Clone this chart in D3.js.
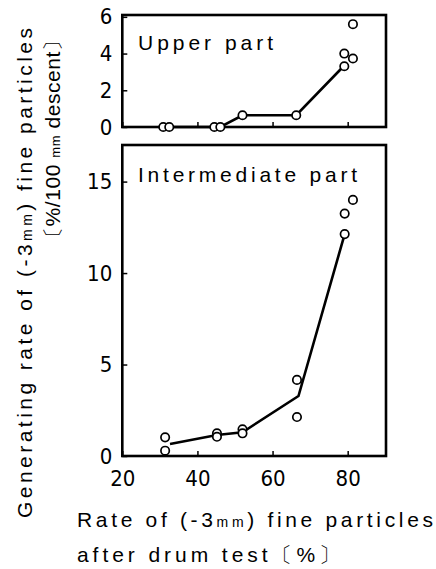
<!DOCTYPE html>
<html>
<head>
<meta charset="utf-8">
<script src="https://cdn.jsdelivr.net/npm/d3@7"></script>
<style>
  body { margin: 0; background: #fff; }
  svg { display: block; }
  .tick text { font-family: "Liberation Sans Narrow", "DejaVu Sans Condensed", "Liberation Sans", sans-serif; font-size: 22px; fill: #000; }
  .tick line { stroke: #000; stroke-width: 1.5; }
  .ttl { font-family: "Liberation Sans", Arial, sans-serif; font-size: 21px; fill: #000; }
</style>
</head>
<body>
<div id="chart"></div>
<script>
// rate of fine particles after drum test (%)
var xTicks = [20, 40, 60, 80];
var upperTicks = [0, 2, 4, 6];
var interTicks = [0, 5, 10, 15];

// upper part - measured points
var upperX = [30.9, 32.5, 44.5, 46.1, 52.0, 66.3, 79.1, 79.1, 81.4, 81.4];
var upperY = [0, 0, 0, 0, 0.64, 0.64, 3.31, 4.0, 3.73, 5.6];
// upper part - trend line
var upperLineX = [30.9, 46.1, 52.0, 66.3, 79.1];
var upperLineY = [0, 0, 0.64, 0.64, 3.35];

// intermediate part - measured points
var interX = [31.4, 31.4, 45.2, 45.2, 52.0, 52.0, 66.5, 66.5, 79.2, 79.2, 81.4];
var interY = [1.02, 0.29, 1.24, 1.05, 1.46, 1.24, 4.16, 2.13, 12.13, 13.25, 14.0];
// intermediate part - trend line
var interLineX = [32.7, 45.2, 52.0, 66.9, 79.2];
var interLineY = [0.66, 1.15, 1.3, 3.28, 12.13];

var width = 436, height = 569;

var svg = d3.select("#chart").append("svg")
    .attr("width", width)
    .attr("height", height);

var x = d3.scaleLinear().domain([20, 90.2]).range([122.3, 386]);

function panel(yDomain, yRange, yTicks, px, py, lx, ly, label, labelY, labelLen, showX) {
  var y = d3.scaleLinear().domain(yDomain).range(yRange);
  var g = svg.append("g");

  // y ticks point inward
  var ya = g.append("g")
      .attr("transform", "translate(" + x.range()[0] + ",0)")
      .call(d3.axisLeft(y).tickValues(yTicks).tickFormat(d3.format("d")).tickSize(-5).tickPadding(10));
  ya.select(".domain").remove();

  // x ticks point up
  var xa = g.append("g")
      .attr("transform", "translate(0," + yRange[0] + ")")
      .call(d3.axisBottom(x).tickValues(xTicks).tickSize(-5).tickPadding(9));
  xa.select(".domain").remove();
  xa.selectAll(".tick text").attr("dy", "0.95em");
  if (!showX) xa.selectAll(".tick text").remove();

  // frame
  g.append("rect")
      .attr("x", x.range()[0])
      .attr("y", yRange[1])
      .attr("width", x.range()[1] - x.range()[0])
      .attr("height", yRange[0] - yRange[1])
      .attr("fill", "none")
      .attr("stroke", "#000")
      .attr("stroke-width", 2.6);

  var line = d3.line().x(function(d) { return x(d[0]); }).y(function(d) { return y(d[1]); });
  g.append("path")
      .datum(d3.zip(lx, ly))
      .attr("d", line)
      .attr("fill", "none")
      .attr("stroke", "#000")
      .attr("stroke-width", 2.6);

  g.selectAll("circle")
      .data(d3.zip(px, py))
      .join("circle")
      .attr("cx", function(d) { return x(d[0]); })
      .attr("cy", function(d) { return y(d[1]); })
      .attr("r", 4.2)
      .attr("fill", "#fff")
      .attr("stroke", "#000")
      .attr("stroke-width", 1.7);

  g.append("text")
      .attr("class", "ttl")
      .attr("x", 138)
      .attr("y", labelY)
      .attr("textLength", labelLen)
      .attr("lengthAdjust", "spacing")
      .text(label);
}

panel([0, 6.1], [127, 15], upperTicks, upperX, upperY, upperLineX, upperLineY, "Upper part", 50, 135, false);
panel([0, 17], [456, 145], interTicks, interX, interY, interLineX, interLineY, "Intermediate part", 182, 219, true);

// y title
var yt1 = svg.append("text").attr("class", "ttl")
    .attr("transform", "translate(32,518) rotate(-90)")
    .attr("textLength", 490).attr("lengthAdjust", "spacing");
yt1.append("tspan").text("Generating rate of (-3");
yt1.append("tspan").style("font-size", "14px").text("mm");
yt1.append("tspan").text(") fine particles");

var yt2 = svg.append("text").attr("class", "ttl")
    .attr("transform", "translate(60,248) rotate(-90)")
    .attr("textLength", 218).attr("lengthAdjust", "spacing");
yt2.append("tspan").text("〔%/100 ");
yt2.append("tspan").style("font-size", "13px").text("mm");
yt2.append("tspan").text(" descent〕");

// x title
var xt1 = svg.append("text").attr("class", "ttl")
    .attr("x", 77).attr("y", 527)
    .attr("textLength", 356).attr("lengthAdjust", "spacing");
xt1.append("tspan").text("Rate of (-3");
xt1.append("tspan").style("font-size", "14px").text("mm");
xt1.append("tspan").text(") fine particles");

svg.append("text").attr("class", "ttl")
    .attr("x", 77).attr("y", 562)
    .attr("textLength", 263).attr("lengthAdjust", "spacing")
    .text("after drum test〔%〕");
</script>
</body>
</html>
